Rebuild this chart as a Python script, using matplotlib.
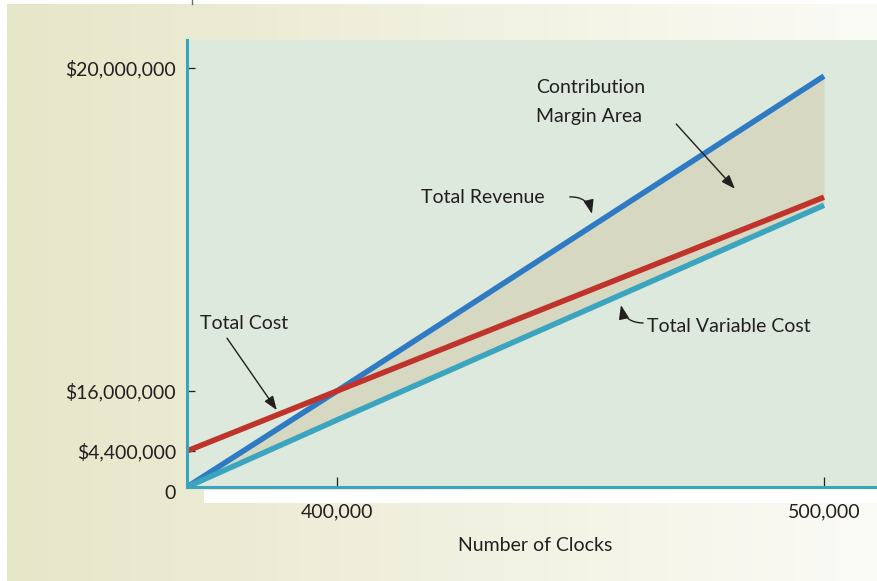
import numpy as np
import matplotlib
matplotlib.use("Agg")
import matplotlib.pyplot as plt
from matplotlib.patches import Rectangle
from matplotlib.lines import Line2D
from matplotlib.transforms import ScaledTranslation

plt.rcParams["font.family"] = ["Lato", "DejaVu Sans"]

# ---- data ---------------------------------------------------------------
units = [0, 400_000, 500_000]
total_revenue = [0, 16_000_000, 19_900_000]
total_cost = [4_400_000, 16_000_000, 18_400_000]
total_variable_cost = [0, 10_400_000, 18_300_000]

y_tick_values = [0, 4_400_000, 16_000_000, 20_000_000]
y_tick_labels = ["0", "$4,400,000", "$16,000,000", "$20,000,000"]
x_tick_values = [400_000, 500_000]
x_tick_labels = ["400,000", "500,000"]

# ---- schematic (not-to-scale) axes: piecewise-linear spacing -----------
x_breaks = [-100_000, 0, 400_000, 500_000, 600_000]
x_spacing = [-150, 0, 150, 637, 1123]
y_breaks = [-4_400_000, 0, 4_400_000, 16_000_000, 20_000_000, 24_000_000]
y_spacing = [-36, 0, 36, 96, 419, 742]


def piecewise(breaks, spacing):
    b = np.asarray(breaks, float)
    s = np.asarray(spacing, float)
    return (lambda v: np.interp(v, b, s), lambda v: np.interp(v, s, b))


x_fwd, x_inv = piecewise(x_breaks, x_spacing)
y_fwd, y_inv = piecewise(y_breaks, y_spacing)

# ---- styling --------------------------------------------------------------
W, H = 878, 581
TEXT = "#231f20"
BLUE = "#2e7bc4"
RED = "#c0332b"
CYAN = "#3ba4bf"
SPINE = "#3aa3bd"
PLOT_BG = "#dce9dc"
CM_FILL = "#d7d8c2"
FS = 14

fig = plt.figure(figsize=(W / 100, H / 100), dpi=100)
fig.patch.set_facecolor("white")

# page gradient behind everything
bg = fig.add_axes([7 / W, 0, 1 - 7 / W, (H - 4) / H])
left_rgb = np.array([0xe6, 0xe6, 0xc9]) / 255
right_rgb = np.array([0xfb, 0xfb, 0xf6]) / 255
t = np.linspace(0, 1, 512)[None, :, None]
grad = left_rgb * (1 - t) + right_rgb * t
bg.imshow(grad, aspect="auto", extent=[0, 1, 0, 1])
bg.set_axis_off()
bg.set_zorder(0)

# white strip under the horizontal axis
fig.patches.append(Rectangle((204 / W, (H - 503) / H), (W - 204) / W, 13 / H,
                             transform=fig.transFigure, facecolor="white",
                             edgecolor="none", zorder=0.5))
fig.lines.append(Line2D([192.5 / W, 192.5 / W], [1, (H - 4) / H],
                        transform=fig.transFigure, color="#6d6d6d", lw=1))

ax = fig.add_axes([187 / W, (H - 487) / H, 691 / W, 447 / H])
ax.set_zorder(1)
ax.set_facecolor(PLOT_BG)
ax.set_xscale("function", functions=(x_fwd, x_inv))
ax.set_yscale("function", functions=(y_fwd, y_inv))
ax.set_xlim(0, float(x_inv(691)))
ax.set_ylim(0, float(y_inv(447)))

ax.fill_between(units, total_revenue, total_variable_cost,
                color=CM_FILL, lw=0, zorder=1)
for vals, col in [(total_revenue, BLUE), (total_variable_cost, CYAN),
                  (total_cost, RED)]:
    ax.plot(units, vals, color=col, lw=4.0, solid_capstyle="butt", zorder=3)

for side in ["top", "right"]:
    ax.spines[side].set_visible(False)
for side in ["left", "bottom"]:
    ax.spines[side].set_color(SPINE)
    ax.spines[side].set_linewidth(2.2)
    ax.spines[side].set_zorder(4)

ax.set_yticks(y_tick_values)
ax.set_yticklabels(y_tick_labels)
ax.set_xticks(x_tick_values)
ax.set_xticklabels(x_tick_labels)
ax.minorticks_off()
ax.tick_params(axis="y", direction="in", length=6, width=0.9, color=TEXT,
               pad=8, labelsize=FS, labelcolor=TEXT)
ax.tick_params(axis="x", direction="in", length=7.5, width=0.9, color=TEXT,
               pad=12, labelsize=FS, labelcolor=TEXT)
zero_lbl = ax.get_yticklabels()[0]
zero_lbl.set_transform(zero_lbl.get_transform()
                       + ScaledTranslation(0, -5 / 100, fig.dpi_scale_trans))

ax.set_xlabel("Number of Clocks", fontsize=FS, color=TEXT)
ax.xaxis.set_label_coords(0.504, -0.143)
ax.xaxis.label.set_va("baseline")

# ---- labels and pointers --------------------------------------------------
txt = dict(transform=ax.transAxes, fontsize=FS, color=TEXT, va="baseline",
           ha="left", zorder=5)
ax.text(0.5051, 0.8814, "Contribution", **txt)
ax.text(0.5051, 0.8166, "Margin Area", **txt)
ax.text(0.3386, 0.6353, "Total Revenue", **txt)
ax.text(0.6657, 0.3468, "Total Variable Cost", **txt)
ax.text(0.0188, 0.3535, "Total Cost", **txt)


def pointer(start, end, rad=0.0):
    ax.annotate("", xy=end, xytext=start, xycoords="axes fraction",
                textcoords="axes fraction", zorder=5,
                arrowprops=dict(arrowstyle="-|>,head_length=0.6,head_width=0.22",
                                mutation_scale=14, color=TEXT, lw=1.0,
                                shrinkA=0, shrinkB=0,
                                connectionstyle=f"arc3,rad={rad}"))


pointer((0.708, 0.812), (0.793, 0.667))
pointer((0.554, 0.649), (0.586, 0.611), rad=-0.4)
pointer((0.660, 0.367), (0.628, 0.407), rad=-0.4)
pointer((0.0579, 0.333), (0.130, 0.172))

fig.savefig("out.png", dpi=100, facecolor=fig.get_facecolor())
